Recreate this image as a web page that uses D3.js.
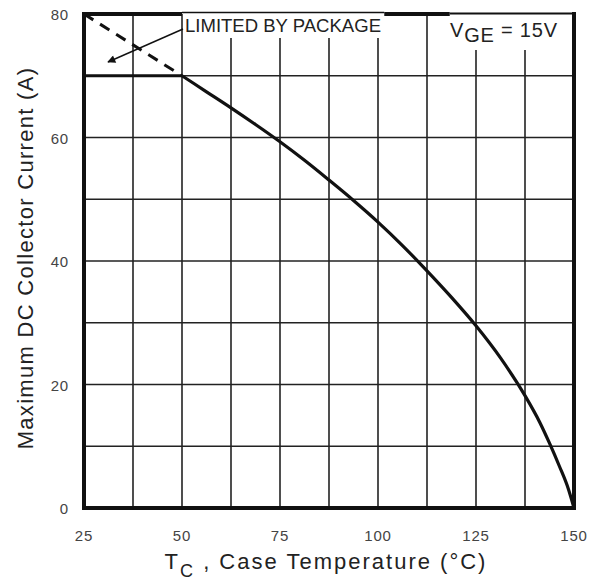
<!DOCTYPE html>
<html>
<head>
<meta charset="utf-8">
<script src="https://cdn.jsdelivr.net/npm/d3@7"></script>
<style>
  body { margin: 0; background: #fff; }
  svg { display: block; }
  text { font-family: "Liberation Sans", Arial, Helvetica, sans-serif; }
</style>
</head>
<body>
<svg id="chart" width="590" height="583"></svg>
<script>
// ---- data ----
const caseTemp   = [50, 56.25, 62.5, 68.75, 75, 81.25, 87.5, 93.75, 100, 106.25, 112.5, 118.75, 125, 131.25, 137.5, 141.25, 143.75, 146.25, 148.5, 150];
const maxCurrent = [70, 67.4, 64.8, 62.1, 59.3, 56.3, 53.1, 49.8, 46.3, 42.5, 38.4, 34.1, 29.5, 24.3, 18.2, 13.9, 10.5, 6.8, 3.2, 0];
const limitTemp    = [25, 50];
const limitCurrent = [80, 70];
const packageLimitLine = [25, 50];   // horizontal at 70 A
const packageLimitValue = 70;
const xTicks = [25, 50, 75, 100, 125, 150];
const yTicks = [0, 20, 40, 60, 80];
const xGrid = [37.5, 50, 62.5, 75, 87.5, 100, 112.5, 125, 137.5];
const yGrid = [10, 20, 30, 40, 50, 60, 70];

// ---- layout ----
const svg = d3.select("#chart");
const L = 84, R = 574, T = 14, B = 508;
const x = d3.scaleLinear().domain([25, 150]).range([L, R]);
const y = d3.scaleLinear().domain([0, 80]).range([B, T]);

// grid
svg.append("g").selectAll("line").data(xGrid).join("line")
  .attr("x1", d => x(d)).attr("x2", d => x(d)).attr("y1", T).attr("y2", B)
  .attr("stroke", "#222").attr("stroke-width", 1.6);
svg.append("g").selectAll("line").data(yGrid).join("line")
  .attr("x1", L).attr("x2", R).attr("y1", d => y(d)).attr("y2", d => y(d))
  .attr("stroke", "#222").attr("stroke-width", 1.6);

// package limit horizontal (thicker)
svg.append("line")
  .attr("x1", x(packageLimitLine[0])).attr("x2", x(packageLimitLine[1]))
  .attr("y1", y(packageLimitValue)).attr("y2", y(packageLimitValue))
  .attr("stroke", "#111").attr("stroke-width", 3);

// dashed extension
const line = d3.line().x(d => x(d[0])).y(d => y(d[1]));
svg.append("path")
  .datum(limitTemp.map((t, i) => [t, limitCurrent[i]]))
  .attr("d", line)
  .attr("fill", "none").attr("stroke", "#111").attr("stroke-width", 3)
  .attr("stroke-dasharray", "11,8");

// main curve
const curve = d3.line().x(d => x(d[0])).y(d => y(d[1])).curve(d3.curveMonotoneX);
svg.append("path")
  .datum(caseTemp.map((t, i) => [t, maxCurrent[i]]))
  .attr("d", curve)
  .attr("fill", "none").attr("stroke", "#111").attr("stroke-width", 3.2);

// label boxes (white background covering grid)
svg.append("rect").attr("x", x(50) + 1).attr("y", 8).attr("width", x(101.6) - x(50)).attr("height", 38 - 8).attr("fill", "#fff");
svg.append("rect").attr("x", x(118.3)).attr("y", 8).attr("width", R - 2 - x(118.3)).attr("height", 50 - 8).attr("fill", "#fff");
svg.append("line").attr("x1", x(50)).attr("x2", x(101.6)).attr("y1", 12.5).attr("y2", 12.5)
  .attr("stroke", "#111").attr("stroke-width", 1.4);
svg.append("line").attr("x1", x(118.3)).attr("x2", R).attr("y1", 13.5).attr("y2", 13.5)
  .attr("stroke", "#111").attr("stroke-width", 2.2);

// frame
const fw = 4;
svg.append("line").attr("x1", L).attr("x2", L).attr("y1", T - 2).attr("y2", B + 2).attr("stroke", "#111").attr("stroke-width", fw);
svg.append("line").attr("x1", R).attr("x2", R).attr("y1", T - 2).attr("y2", B + 2).attr("stroke", "#111").attr("stroke-width", fw);
svg.append("line").attr("x1", L - 2).attr("x2", R + 2).attr("y1", B).attr("y2", B).attr("stroke", "#111").attr("stroke-width", fw);
svg.append("line").attr("x1", L - 2).attr("x2", x(50)).attr("y1", T).attr("y2", T).attr("stroke", "#111").attr("stroke-width", fw);
svg.append("line").attr("x1", x(101.6)).attr("x2", x(118.3)).attr("y1", T).attr("y2", T).attr("stroke", "#111").attr("stroke-width", fw);

// annotation text
svg.append("text").attr("x", x(50) + 3).attr("y", 31.5)
  .attr("font-size", 19).attr("fill", "#222")
  .attr("textLength", 196).attr("lengthAdjust", "spacingAndGlyphs")
  .text("LIMITED BY PACKAGE");

// arrow
svg.append("defs").append("marker")
  .attr("id", "ah").attr("viewBox", "0 0 10 10").attr("refX", 9).attr("refY", 5)
  .attr("markerWidth", 13).attr("markerHeight", 8).attr("markerUnits", "userSpaceOnUse")
  .attr("orient", "auto")
  .append("path").attr("d", "M0,0 L10,5 L0,10 Z").attr("fill", "#111");
svg.append("line").attr("x1", x(50) + 1).attr("y1", 29).attr("x2", 108).attr("y2", 62)
  .attr("stroke", "#111").attr("stroke-width", 1.4).attr("marker-end", "url(#ah)");

const vge = svg.append("text").attr("x", 450).attr("y", 36.5).attr("font-size", 20)
  .attr("fill", "#222").attr("letter-spacing", 0.8);
vge.append("tspan").text("V");
vge.append("tspan").attr("dy", 5).text("GE");
vge.append("tspan").attr("dy", -5).text(" = 15V");

// axes tick labels
svg.append("g").selectAll("text").data(xTicks).join("text")
  .attr("x", d => x(d)).attr("y", 541).attr("text-anchor", "middle")
  .attr("font-size", 15).attr("letter-spacing", 0.8).attr("fill", "#444").text(d => d);
svg.append("g").selectAll("text").data(yTicks).join("text")
  .attr("x", 69).attr("y", d => y(d) + 6).attr("text-anchor", "end")
  .attr("font-size", 15).attr("letter-spacing", 0.8).attr("fill", "#444").text(d => d);

// axis titles
const xt = svg.append("text").attr("x", 326).attr("y", 569).attr("text-anchor", "middle")
  .attr("font-size", 22).attr("fill", "#222").attr("letter-spacing", 2);
xt.append("tspan").text("T");
xt.append("tspan").attr("font-size", 18).attr("dy", 8).text("C");
xt.append("tspan").attr("dy", -8).text(" , Case Temperature (°C)");

svg.append("text").attr("transform", "translate(33,258) rotate(-90)")
  .attr("text-anchor", "middle").attr("font-size", 22).attr("fill", "#222")
  .attr("letter-spacing", 1.3)
  .text("Maximum DC Collector Current (A)");
</script>
</body>
</html>
